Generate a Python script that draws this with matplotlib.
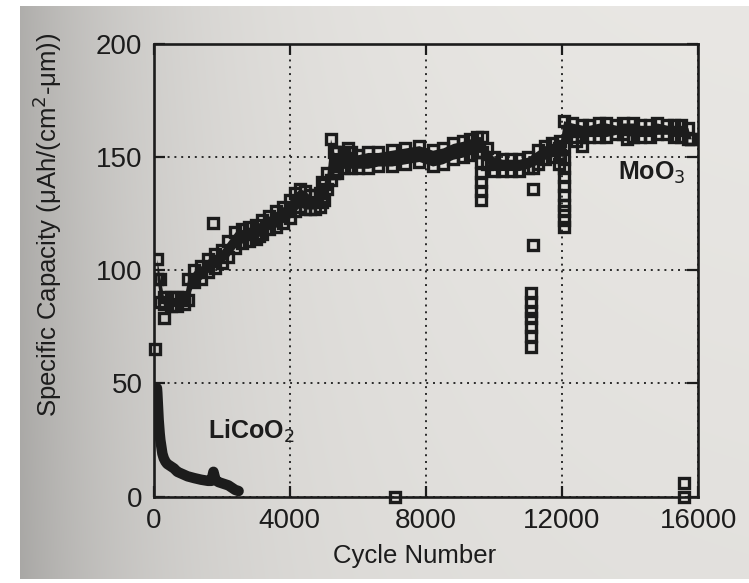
import matplotlib
matplotlib.use("Agg")
import matplotlib.pyplot as plt
import numpy as np

# MoO3 main band: cycle, lower edge, upper edge (uAh/(cm2-um))
moo3_cycles = [100, 200, 300, 500, 700, 900, 1000, 1200, 1400, 1600, 1800, 2000, 2200,
               2400, 2600, 2800, 3000, 3200, 3400, 3600, 3800, 4000, 4150, 4300, 4450,
               4600, 4750, 4900, 5000, 5100, 5200, 5300, 5400, 5600, 5800, 6000, 6300,
               6600, 7000, 7400, 7800, 8200, 8500, 8800, 9100, 9300, 9500, 9650, 9800,
               10000, 10250, 10500, 10750, 11000, 11300, 11500, 11700, 11950, 12050,
               12300, 12600, 12800, 13100, 13300, 13600, 13800, 14100, 14300, 14600,
               14800, 15100, 15300, 15500, 15700, 15800]
moo3_lo = [96, 86, 85, 84, 84, 85, 87, 95, 96, 99, 101, 103, 106,
           110, 112, 113, 114, 116, 118, 119, 121, 123, 126, 128, 127,
           127, 127, 128, 131, 136, 140, 143, 143, 145, 145, 145, 145,
           146, 146, 147, 148, 146, 147, 149, 150, 151, 152, 152, 147,
           144, 144, 144, 144, 145, 147, 149, 150, 151, 155,
           159, 159, 159, 159, 159, 160, 160, 159, 159, 159,
           160, 160, 159, 159, 158, 158]
moo3_hi = [105, 96, 88, 88, 88, 88, 96, 100, 102, 105, 107, 109, 113,
           117, 118, 119, 120, 122, 124, 126, 128, 131, 134, 136, 135,
           133, 133, 134, 138, 143, 158, 152, 152, 152, 152, 151, 152,
           152, 153, 154, 155, 153, 154, 156, 157, 158, 159, 159, 154,
           150, 149, 149, 149, 150, 153, 155, 156, 157, 166,
           165, 164, 164, 165, 165, 164, 165, 165, 164, 164,
           165, 164, 164, 164, 163, 158]

# MoO3 scattered points away from the band
moo3_out_cycles = [50, 300, 1750, 3100, 4950, 4950, 4950, 5700, 7100,
                   9620, 9620, 9620, 9620, 9620,
                   11150, 11150, 11150, 11100, 11100, 11100, 11100, 11100, 11100, 11100,
                   11900, 11900, 12050, 12050, 12050, 12050, 12050, 12050, 12050, 12050,
                   12050, 12400, 12600, 13900, 15600, 15600]
moo3_out_vals = [65, 79, 121, 115, 139, 134, 130, 154, 0,
                 148, 143, 139, 135, 131,
                 145, 136, 111, 90, 86, 82, 79, 75, 71, 66,
                 154, 147, 149, 145, 141, 137, 133, 129, 126, 122,
                 119, 157, 155, 158, 0, 6]

# LiCoO2
licoo2_cycles = [100, 110, 120, 130, 140, 150, 165, 180, 200, 230, 260, 300, 350, 400,
                 500, 600, 700, 850, 1000, 1200, 1400, 1600, 1700, 1760, 1820, 1900,
                 2000, 2100, 2200, 2300, 2400, 2500]
licoo2_vals = [48, 46, 43, 40, 37, 34, 31, 28, 25, 22, 19, 17, 15.5, 14.5,
               13.5, 12.5, 11, 10, 9, 8.2, 7.5, 7, 7, 11, 7.5, 6.5,
               6, 5.5, 5, 4, 3, 2.5]

xticks = [0, 4000, 8000, 12000, 16000]
yticks = [0, 50, 100, 150, 200]

plt.rcParams['font.family'] = ['Liberation Sans', 'DejaVu Sans']
ink = '#1c1c1c'

W, H = 749, 583
fig = plt.figure(figsize=(W / 100, H / 100), dpi=100)

# photographed paper: darker on the left, white margins round the photo
xs = np.linspace(0, 1, W)
ys = np.linspace(0, 1, H)
shade = 0.915 - 0.26 * np.exp(-xs / 0.2)[None, :] - 0.025 * ys[:, None]
bg = np.dstack([shade, shade * 0.992, shade * 0.978])
bg[:6, :, :] = 1.0
bg[:, :20, :] = 1.0
bg[-4:, :, :] = 1.0
bg_ax = fig.add_axes([0, 0, 1, 1], zorder=-1)
bg_ax.imshow(np.clip(bg, 0, 1), aspect='auto', interpolation='bilinear')
bg_ax.axis('off')

ax = fig.add_axes([0.205, 0.148, 0.727, 0.777])
ax.set_facecolor('none')

ax.fill_between(moo3_cycles, moo3_lo, moo3_hi, color=ink, lw=0, zorder=2)
sq = dict(ls='none', marker='s', ms=7.5, mfc='none', mec=ink, mew=2.4, zorder=3)
ax.plot(moo3_cycles, moo3_hi, **sq)
ax.plot(moo3_cycles, moo3_lo, **sq)
ax.plot(moo3_out_cycles, moo3_out_vals, clip_on=False, **sq)

ax.plot(licoo2_cycles, licoo2_vals, color=ink, lw=7.5, solid_capstyle='round',
        solid_joinstyle='round', zorder=3)

ax.set_xlim(0, 16000)
ax.set_ylim(0, 200)
ax.set_xticks(xticks)
ax.set_yticks(yticks)
ax.grid(True, color='#2a2a2a', ls=(0, (1, 2.5)), lw=1.4)
ax.tick_params(direction='in', length=8, width=1.6, top=True, right=True,
               labelsize=20, pad=8, colors=ink)
for s in ax.spines.values():
    s.set_linewidth(1.9)
    s.set_color(ink)

ax.set_xlabel('Cycle Number', fontsize=18.5, color=ink)
ax.set_ylabel('Specific Capacity (\u03bcAh/(cm$^2$-\u03bcm))', fontsize=18.5, color=ink)
ax.xaxis.set_label_coords(0.48, -0.105)
ax.yaxis.set_label_coords(-0.165, 0.6)

ax.text(13650, 143, 'MoO$_3$', fontsize=18, fontweight='bold', color=ink,
        va='center', ha='left')
ax.text(1600, 29, 'LiCoO$_2$', fontsize=18, fontweight='bold', color=ink,
        va='center', ha='left')

fig.savefig('out.png', dpi=100)
